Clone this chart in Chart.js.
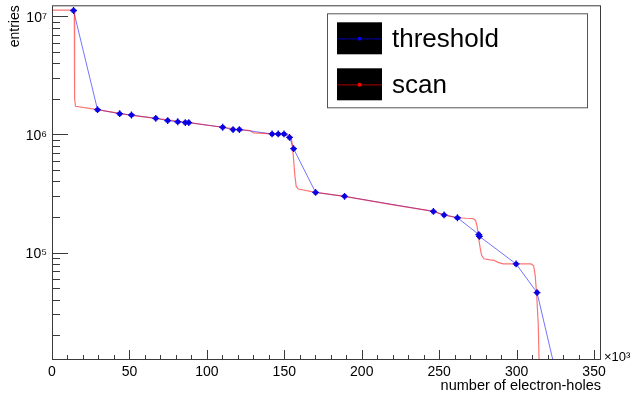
<!DOCTYPE html>
<html>
<head>
<meta charset="utf-8">
<script src="https://cdn.jsdelivr.net/npm/chart.js@4.4.1/dist/chart.umd.min.js"></script>
<style>
  html, body { margin: 0; padding: 0; background: #fff; }
</style>
</head>
<body>
<canvas id="grafico" width="632" height="395"></canvas>
<script>
// threshold: un punto por umbral (x en unidades de 10^3 pares electron-hueco)
const umbralX = [13.9, 29.4, 43.7, 51.3, 67.0, 74.7, 81.2, 86.1, 88.3, 110.2, 116.9, 121.0, 142.1, 146.1,
  149.8, 153.4, 156.0, 170.2, 188.9, 246.3, 253.2, 261.8, 275.6, 276.0, 299.7, 313.2, 329.0];
const umbralY = [1.12e7, 1.62e6, 1.50e6, 1.46e6, 1.37e6, 1.31e6, 1.28e6, 1.26e6, 1.26e6, 1.15e6, 1.10e6, 1.10e6, 1.01e6, 1.01e6,
  1.01e6, 9.44e5, 7.57e5, 3.23e5, 2.99e5, 2.23e5, 2.08e5, 1.97e5, 1.42e5, 1.37e5, 8.0e4, 4.58e4, 6.0e3];

// scan: curva del barrido fino
const scanX = [0, 13.9, 14.4, 14.6, 15.2, 29.4, 51.3, 67.0, 88.3, 110.2, 121.0, 128.1, 130.0, 142.3, 151.9,
  153.9, 154.8, 155.8, 156.8, 157.7, 159.0, 170.2, 188.9, 218.4, 246.3, 253.2, 261.8, 267.4, 271.9, 273.5,
  274.5, 275.5, 276.5, 277.4, 279.0, 282.9, 285.5, 288.0, 291.3, 309.4, 311.0, 312.0, 313.0, 314.0, 314.5, 315.2];
const scanY = [1.13e7, 1.13e7, 1.08e7, 2.0e6, 1.73e6, 1.62e6, 1.45e6, 1.37e6, 1.26e6, 1.15e6, 1.10e6, 1.08e6, 1.03e6, 1.01e6, 1.0e6,
  9.7e5, 8.9e5, 6.64e5, 4.5e5, 3.63e5, 3.45e5, 3.23e5, 2.99e5, 2.56e5, 2.23e5, 2.08e5, 1.97e5, 1.95e5, 1.94e5, 1.87e5,
  1.67e5, 1.32e5, 1.09e5, 9.47e4, 8.85e4, 8.68e4, 8.59e4, 8.26e4, 8.02e4, 8.0e4, 7.71e4, 6.41e4, 4.35e4, 2.42e4, 1.22e4, 5.6e3];

const ticksX = [0, 50, 100, 150, 200, 250, 300, 350];
const ticksY = [1e5, 1e6, 1e7];
const superindice = { 3: '³', 4: '⁴', 5: '⁵', 6: '⁶', 7: '⁷' };

const fuente = '"Liberation Sans", Arial, Helvetica, sans-serif';
const lineaAzul = 'rgba(0, 0, 255, 0.55)';
const lineaRoja = 'rgba(255, 0, 0, 0.55)';
const puntoAzul = 'rgb(10, 0, 225)';

const puntos = (xs, ys) => xs.map((x, i) => ({ x: x, y: ys[i] }));

// marco y marcas hacia adentro, al estilo ROOT
const marcasInternas = {
  id: 'marcasInternas',
  afterDraw(chart) {
    const { ctx, chartArea: a, scales: { x, y } } = chart;
    ctx.save();
    ctx.strokeStyle = '#3a3a3a';
    ctx.lineWidth = 1;
    ctx.strokeRect(a.left + 0.5, a.top + 0.5, a.right - a.left - 1, a.bottom - a.top - 1);

    for (let v = 0; v <= x.max; v += 10) {
      const px = Math.round(x.getPixelForValue(v)) + 0.5;
      const largo = v % 50 === 0 ? 10 : 5;
      ctx.beginPath();
      ctx.moveTo(px, a.bottom);
      ctx.lineTo(px, a.bottom - largo);
      ctx.stroke();
    }

    for (let e = 4; e <= 7; e++) {
      for (let m = 1; m <= 9; m++) {
        const v = m * Math.pow(10, e);
        if (v < y.min || v > y.max) continue;
        const py = Math.round(y.getPixelForValue(v)) + 0.5;
        const largo = m === 1 ? 16 : 8;
        ctx.beginPath();
        ctx.moveTo(a.left, py);
        ctx.lineTo(a.left + largo, py);
        ctx.stroke();
      }
    }

    // factor del eje x
    ctx.fillStyle = '#000';
    ctx.font = '13px ' + fuente;
    ctx.textAlign = 'left';
    ctx.textBaseline = 'alphabetic';
    ctx.fillText('×10' + superindice[3], a.right + 3, a.bottom + 1);
    ctx.restore();
  }
};

// leyenda con cajas negras
const leyenda = {
  id: 'leyenda',
  afterDraw(chart) {
    const { ctx, chartArea: a } = chart;
    const entradas = [
      { texto: 'threshold', linea: lineaAzul, punto: puntoAzul },
      { texto: 'scan', linea: lineaRoja, punto: 'rgb(255, 0, 0)' }
    ];
    const x0 = a.left + 275, y0 = a.top + 8;
    ctx.save();
    ctx.fillStyle = '#fff';
    ctx.fillRect(x0, y0, 260, 94);
    ctx.strokeStyle = '#555';
    ctx.lineWidth = 1;
    ctx.strokeRect(x0 + 0.5, y0 + 0.5, 260, 94);
    entradas.forEach((e, i) => {
      const by = y0 + 9 + i * 46;
      const cy = by + 16.5;
      ctx.fillStyle = '#000';
      ctx.fillRect(x0 + 10, by, 45, 32);
      ctx.strokeStyle = e.linea;
      ctx.lineWidth = 1.2;
      ctx.beginPath();
      ctx.moveTo(x0 + 10, cy);
      ctx.lineTo(x0 + 55, cy);
      ctx.stroke();
      ctx.fillStyle = e.punto;
      ctx.beginPath();
      ctx.arc(x0 + 32.5, cy, 2, 0, 2 * Math.PI);
      ctx.fill();
      ctx.fillStyle = '#000';
      ctx.font = '26px ' + fuente;
      ctx.textBaseline = 'middle';
      ctx.fillText(e.texto, x0 + 65, cy + 1);
    });
    ctx.restore();
  }
};

const ctx = document.getElementById('grafico').getContext('2d');

new Chart(ctx, {
  type: 'scatter',
  data: {
    datasets: [
      {
        label: 'threshold',
        data: puntos(umbralX, umbralY),
        showLine: true,
        borderColor: lineaAzul,
        borderWidth: 1,
        pointRadius: 0,
        order: 4
      },
      {
        label: 'scan',
        data: puntos(scanX, scanY),
        showLine: true,
        borderColor: lineaRoja,
        borderWidth: 1.2,
        pointRadius: 0,
        order: 3
      },
      {
        // marcador: circulo relleno
        label: 'threshold',
        data: puntos(umbralX, umbralY),
        showLine: false,
        pointRadius: 2.5,
        pointBackgroundColor: puntoAzul,
        pointBorderWidth: 0,
        order: 2
      },
      {
        // pequena cruz sobre el marcador
        label: 'threshold',
        data: puntos(umbralX, umbralY),
        showLine: false,
        pointStyle: 'cross',
        pointRadius: 3.4,
        pointBorderColor: puntoAzul,
        pointBorderWidth: 1.3,
        order: 1
      }
    ]
  },
  options: {
    responsive: false,
    animation: false,
    devicePixelRatio: 1,
    layout: { padding: { left: 0, top: 5, right: 31, bottom: 0 } },
    plugins: {
      legend: { display: false },
      tooltip: { enabled: false }
    },
    scales: {
      x: {
        type: 'linear',
        min: 0,
        max: 354.5,
        afterBuildTicks: (s) => { s.ticks = ticksX.map(v => ({ value: v })); },
        afterFit: (s) => { s.height = 35; s.paddingLeft = 0; s.paddingRight = 0; },
        grid: { display: false, drawTicks: false },
        border: { display: false },
        ticks: {
          padding: 3.4,
          maxRotation: 0,
          autoSkip: false,
          color: '#000',
          font: { family: fuente, size: 14 }
        },
        title: {
          display: true,
          text: 'number of electron-holes',
          align: 'end',
          color: '#000',
          font: { family: fuente, size: 14.5 },
          padding: { top: 0, bottom: 0 }
        }
      },
      y: {
        type: 'logarithmic',
        min: 1.23e4,
        max: 1.24e7,
        afterBuildTicks: (s) => { s.ticks = ticksY.map(v => ({ value: v })); },
        afterFit: (s) => { s.width = 52; s.paddingTop = 0; s.paddingBottom = 0; },
        grid: { display: false, drawTicks: false },
        border: { display: false },
        ticks: {
          padding: 5,
          labelOffset: 2,
          color: '#000',
          font: { family: fuente, size: 14 },
          callback: (v) => '10' + superindice[Math.round(Math.log10(v))]
        },
        title: {
          display: true,
          text: 'entries',
          align: 'end',
          color: '#000',
          font: { family: fuente, size: 14 },
          padding: { top: 6.5, bottom: 0 }
        }
      }
    }
  },
  plugins: [marcasInternas, leyenda]
});
</script>
</body>
</html>
